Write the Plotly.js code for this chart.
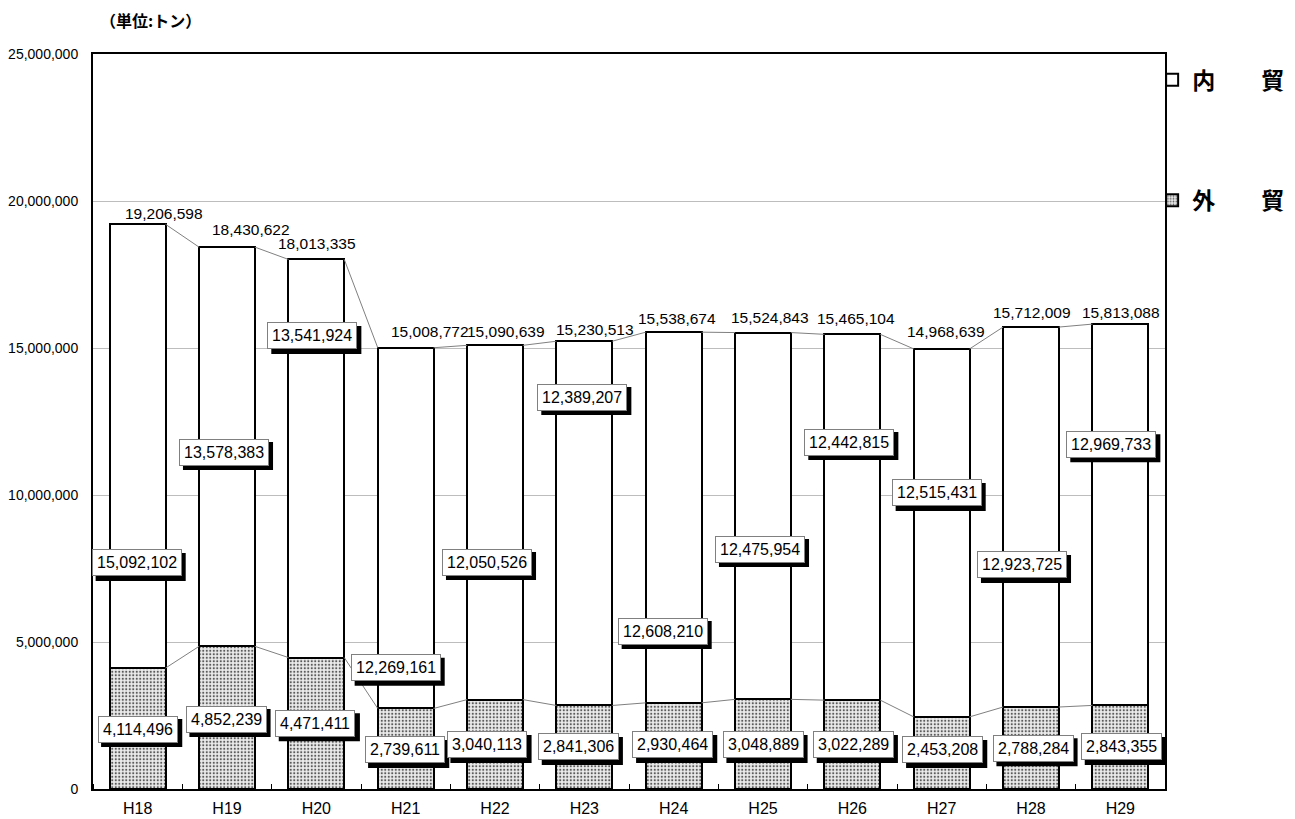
<!DOCTYPE html>
<html><head><meta charset="utf-8">
<script src="https://cdn.plot.ly/plotly-3.0.1.min.js"></script>
<style>html,body{margin:0;padding:0;background:#fff}#chart{width:1295px;height:819px}</style>
</head><body><div id="chart"></div>
<script>
// ---- data ----
const categories = ['H18','H19','H20','H21','H22','H23','H24','H25','H26','H27','H28','H29'];
const foreignTrade = [4114496, 4852239, 4471411, 2739611, 3040113, 2841306, 2930464, 3048889, 3022289, 2453208, 2788284, 2843355];
const domesticTrade = [15092102, 13578383, 13541924, 12269161, 12050526, 12389207, 12608210, 12475954, 12442815, 12515431, 12923725, 12969733];
const seriesNames = ['内\u3000\u3000貿', '外\u3000\u3000貿'];
const unitLabel = '（単位:トン）';

// ---- label placement (layout only) ----
const domLabelY = [7.69e6, 11.46e6, 15.41e6, 4.12e6, 7.72e6, 13.33e6, 5.37e6, 8.16e6, 11.80e6, 10.07e6, 7.62e6, 11.73e6];
const domLabelDx = [-1, -3, -4, -10, -8, -2, -11, -3, -3, -5, -9, -9];
const forLabelY = [2.04e6, 2.38e6, 2.24e6, 1.33e6, 1.50e6, 1.43e6, 1.50e6, 1.50e6, 1.50e6, 1.33e6, 1.39e6, 1.43e6];
const forLabelDx = [0, -1, -1, -1, -8, -6, -1, 0, 1, 1, 2, 1];
const totDx = [26, 24, 1, 24, 11, 11, 3, 7, 4, 4, 1, 1];
const totDy = [11, 18, 16, 16, 14, 12, 14, 15, 16, 17, 15, 12];

const idx = categories.map((c, i) => i);
const totals = domesticTrade.map((d, i) => d + foreignTrade[i]);
const barW = 0.625;
const hw = barW / 2;

const fmt = v => v.toLocaleString('en-US');
const numFont = 'Liberation Sans, Arial, sans-serif';
const jpFont = 'Noto Sans CJK JP, sans-serif';
const labelSize = 16;

function seriesLine(vals) {
  const xs = [], ys = [];
  for (let i = 0; i < vals.length - 1; i++) {
    xs.push(idx[i] + hw, idx[i + 1] - hw, null);
    ys.push(vals[i], vals[i + 1], null);
  }
  return {type: 'scatter', mode: 'lines', x: xs, y: ys, showlegend: false, hoverinfo: 'skip',
          line: {color: '#808080', width: 1}};
}

const traces = [
  {type: 'bar', name: seriesNames[1], x: idx, y: foreignTrade, width: barW, legend: 'legend2',
   marker: {color: '#e6e6e6', line: {color: '#000', width: 2},
            pattern: {shape: '.', fgcolor: '#5a5a5a', bgcolor: '#ececec', size: 3.5, solidity: 0.3}}},
  {type: 'bar', name: seriesNames[0], x: idx, y: domesticTrade, width: barW, legend: 'legend',
   marker: {color: '#ffffff', line: {color: '#000', width: 2}}},
  seriesLine(foreignTrade),
  seriesLine(totals)
];

const annotations = [];
const shapes = [];
totals.forEach((t, i) => {
  annotations.push({x: idx[i], y: t, xref: 'x', yref: 'y', text: fmt(t), showarrow: false,
    xshift: totDx[i], yshift: totDy[i], yanchor: 'middle',
    font: {family: numFont, size: 15.5, color: '#000'}});
});
function textWidth(s) {
  let w = 0;
  for (const ch of s) w += (ch === ',' ? 0.278 : 0.556) * labelSize;
  return w;
}
function boxed(x, y, text, dx) {
  const w = textWidth(text) + 10, h = 28;
  shapes.push({type: 'rect', xref: 'x', yref: 'y', xsizemode: 'pixel', ysizemode: 'pixel',
    xanchor: x, yanchor: y, x0: dx - w / 2 + 4, x1: dx + w / 2 + 4, y0: -h / 2 - 4, y1: h / 2 - 4,
    fillcolor: '#000', line: {width: 0}, layer: 'above'});
  annotations.push({x: x, y: y, xref: 'x', yref: 'y', text: text, showarrow: false,
    xshift: dx, bgcolor: '#fff', bordercolor: '#808080', borderwidth: 1, borderpad: 4,
    font: {family: numFont, size: labelSize, color: '#000'}});
}
domesticTrade.forEach((v, i) => boxed(idx[i], domLabelY[i], fmt(v), domLabelDx[i]));
foreignTrade.forEach((v, i) => boxed(idx[i], forLabelY[i], fmt(v), forLabelDx[i]));
annotations.push({xref: 'paper', yref: 'paper', x: 0.0532, y: 1.046, text: unitLabel, showarrow: false,
  xanchor: 'center', yanchor: 'middle', font: {family: jpFont, size: 16, weight: 'bold', color: '#000'}});

const legendFont = {family: jpFont, size: 23, weight: 'bold', color: '#000'};
const layout = {
  width: 1295, height: 819,
  margin: {l: 93, r: 130, t: 54, b: 30, autoexpand: false},
  paper_bgcolor: '#fff', plot_bgcolor: '#fff',
  barmode: 'stack',
  showlegend: true,
  legend: {x: 0.988, xanchor: 'left', y: 0.965, yanchor: 'middle', font: legendFont,
           bgcolor: 'rgba(0,0,0,0)', itemwidth: 30},
  legend2: {x: 0.988, xanchor: 'left', y: 0.801, yanchor: 'middle', font: legendFont,
            bgcolor: 'rgba(0,0,0,0)', itemwidth: 30},
  xaxis: {range: [-0.5, categories.length - 0.5], tickmode: 'array', tickvals: idx, ticktext: categories,
          ticks: '', showgrid: false, zeroline: false, showline: true, mirror: true, linecolor: '#000', linewidth: 2,
          tickfont: {family: numFont, size: 16, color: '#000'}, ticklabelstandoff: 4,
          minor: {tickmode: 'linear', tick0: 0.5, dtick: 1, ticks: 'inside', ticklen: 5, tickcolor: '#000', tickwidth: 1, showgrid: false}},
  yaxis: {range: [0, 25e6], tickmode: 'linear', tick0: 0, dtick: 5e6, tickformat: ',d',
          showgrid: true, gridcolor: '#bdbdbd', gridwidth: 1, zeroline: false,
          showline: true, mirror: true, linecolor: '#000', linewidth: 2, ticks: '',
          tickfont: {family: numFont, size: 14, color: '#000'}, ticklabelstandoff: 10},
  shapes: shapes,
  annotations: annotations
};

Plotly.newPlot('chart', traces, layout, {displayModeBar: false, staticPlot: true});
</script>
</body></html>
